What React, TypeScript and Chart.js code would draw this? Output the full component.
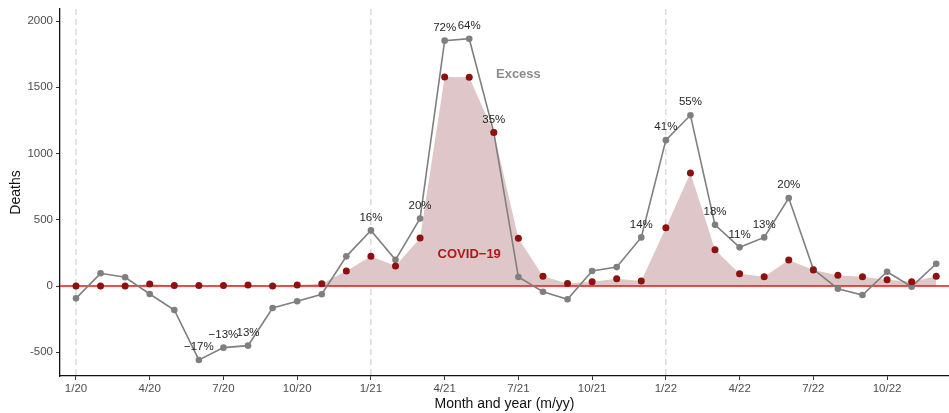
import { useEffect, useRef } from 'react';
import { Chart, registerables } from 'chart.js';
Chart.register(...registerables);

const FONT = '"Liberation Sans", Arial, Helvetica, sans-serif';

// months 0 = 1/20 ... 35 = 12/22
const tickMonths = [0, 3, 6, 9, 12, 15, 18, 21, 24, 27, 30, 33];
const tickLabels = ['1/20', '4/20', '7/20', '10/20', '1/21', '4/21', '7/21', '10/21', '1/22', '4/22', '7/22', '10/22'];
const yTicks = [-500, 0, 500, 1000, 1500, 2000];
const yearStarts = [0, 12, 24];

const excessDeaths = [
  -93, 96, 66, -60, -181, -558, -465, -450, -166, -115, -62, 224,
  420, 198, 510, 1852, 1867, 1160, 68, -43, -100, 113, 143, 367,
  1101, 1289, 462, 292, 367, 664, 126, -20, -68, 108, -5, 168,
];
const covidDeaths = [
  0, 0, 0, 15, 5, 5, 5, 8, 0, 8, 17, 113,
  224, 151, 362, 1578, 1576, 1159, 360, 73, 20, 33, 55, 38,
  440, 854, 274, 93, 70, 196, 121, 81, 70, 48, 33, 73,
];
const pctLabels: (string | null)[] = [
  null, null, null, null, null, '−17%', '−13%', '13%', null, null, null, null,
  '16%', null, '20%', '72%', '64%', '35%', null, null, null, null, null, '14%',
  '41%', '55%', '18%', '11%', '13%', '20%', null, null, null, null, null, null,
];
const seriesNames = ['Excess', 'COVID−19'];
const seriesNameAt = [
  { x: 18.0, y: 1600 },
  { x: 16.0, y: 240 },
];

const overlay = {
  id: 'overlay',
  beforeDatasetsDraw(chart: any) {
    const { ctx, chartArea, scales } = chart;
    ctx.save();
    ctx.strokeStyle = '#c8c8c8';
    ctx.lineWidth = 1;
    ctx.setLineDash([6, 4]);
    yearStarts.forEach((m) => {
      const px = scales.x.getPixelForValue(m);
      ctx.beginPath();
      ctx.moveTo(px, chartArea.top);
      ctx.lineTo(px, chartArea.bottom);
      ctx.stroke();
    });
    ctx.restore();
  },
  afterDatasetDraw(chart: any, args: any) {
    if (args.index !== 0) return;
    const { ctx, chartArea, scales } = chart;
    const py = scales.y.getPixelForValue(0);
    ctx.save();
    ctx.strokeStyle = '#ee1111';
    ctx.lineWidth = 1.5;
    ctx.beginPath();
    ctx.moveTo(chartArea.left, py);
    ctx.lineTo(chartArea.right, py);
    ctx.stroke();
    ctx.restore();
  },
  afterDatasetsDraw(chart: any) {
    const { ctx, scales } = chart;
    ctx.save();
    ctx.textAlign = 'center';
    ctx.textBaseline = 'middle';
    ctx.fillStyle = '#262626';
    ctx.font = `11.5px ${FONT}`;
    pctLabels.forEach((t, i) => {
      if (!t) return;
      const px = scales.x.getPixelForValue(i);
      const py = scales.y.getPixelForValue(excessDeaths[i]);
      ctx.fillText(t, px, py - 13);
    });
    ctx.font = `bold 13px ${FONT}`;
    ctx.fillStyle = '#8c8c8c';
    ctx.fillText(seriesNames[0], scales.x.getPixelForValue(seriesNameAt[0].x), scales.y.getPixelForValue(seriesNameAt[0].y));
    ctx.fillStyle = '#b01818';
    ctx.fillText(seriesNames[1], scales.x.getPixelForValue(seriesNameAt[1].x), scales.y.getPixelForValue(seriesNameAt[1].y));
    ctx.restore();
  },
};

export default function App() {
  const ref = useRef<HTMLCanvasElement>(null);
  useEffect(() => {
    document.body.style.margin = '0';
    const pts = (arr: number[]) => arr.map((v, i) => ({ x: i, y: v }));
    const chart = new Chart(ref.current!, {
      type: 'line',
      data: {
        datasets: [
          {
            data: pts(covidDeaths),
            fill: 'origin',
            backgroundColor: '#dfc7c9',
            borderWidth: 0,
            pointRadius: 0,
            order: 3,
          } as any,
          {
            data: pts(excessDeaths),
            borderColor: '#7f7f7f',
            borderWidth: 1.6,
            pointRadius: 3.3,
            pointBackgroundColor: '#7f7f7f',
            pointBorderWidth: 0,
            fill: false,
            order: 2,
          },
          {
            data: pts(covidDeaths),
            showLine: false,
            pointRadius: 3.5,
            pointBackgroundColor: '#8e1010',
            pointBorderWidth: 0,
            fill: false,
            order: 1,
          },
        ],
      },
      options: {
        animation: false,
        responsive: false,
        maintainAspectRatio: false,
        layout: { autoPadding: false, padding: { top: 9, right: 0, left: 0, bottom: 0 } },
        plugins: { legend: { display: false }, tooltip: { enabled: false } },
        scales: {
          x: {
            type: 'linear',
            min: -0.65,
            max: 35.52,
            afterBuildTicks: (s: any) => {
              s.ticks = tickMonths.map((v) => ({ value: v }));
            },
            afterFit: (s: any) => {
              s.height = 37;
              s.paddingLeft = 0;
              s.paddingRight = 0;
            },
            grid: { drawOnChartArea: false, drawTicks: true, tickLength: 4, tickColor: '#333', lineWidth: 1 },
            border: { display: true, color: '#111', width: 1.3 },
            ticks: {
              color: '#4d4d4d',
              font: { family: FONT, size: 11.5 },
              padding: 2,
              maxRotation: 0,
              autoSkip: false,
              callback: (v: any) => {
                const k = tickMonths.indexOf(Number(v));
                return k >= 0 ? tickLabels[k] : '';
              },
            },
            title: { display: true, text: 'Month and year (m/yy)', color: '#111', font: { family: FONT, size: 14 }, padding: { top: 0, bottom: 0 } },
          },
          y: {
            min: -679,
            max: 2091,
            afterBuildTicks: (s: any) => {
              s.ticks = yTicks.map((v) => ({ value: v }));
            },
            afterFit: (s: any) => {
              s.width = 60;
              s.paddingTop = 0;
              s.paddingBottom = 0;
            },
            grid: { drawOnChartArea: false, drawTicks: true, tickLength: 4, tickColor: '#333', lineWidth: 1 },
            border: { display: true, color: '#111', width: 1.3 },
            ticks: {
              color: '#4d4d4d',
              font: { family: FONT, size: 11.5 },
              padding: 3,
              callback: (v: any) => String(v),
            },
            title: { display: true, text: 'Deaths', color: '#111', font: { family: FONT, size: 14 }, padding: { top: 8, bottom: 0 } },
          },
        },
      },
      plugins: [overlay],
    });
    return () => chart.destroy();
  }, []);
  return (
    <div style={{ width: 949, height: 413 }}>
      <canvas ref={ref} width={949} height={413} style={{ display: 'block', width: 949, height: 413 }} />
    </div>
  );
}
